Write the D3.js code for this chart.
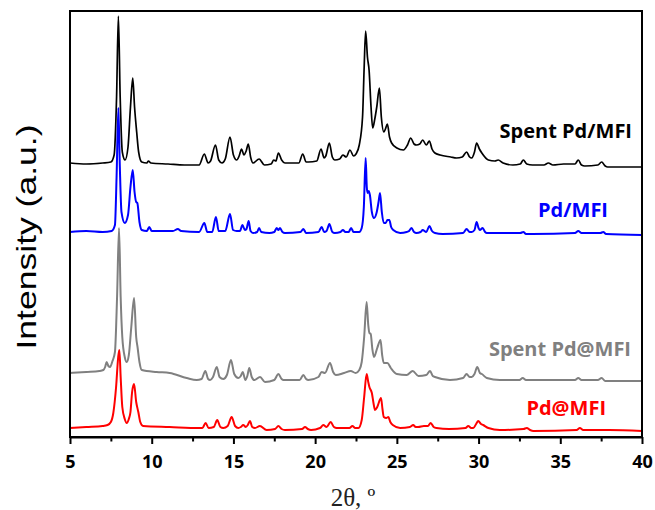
<!DOCTYPE html>
<html>
<head>
<meta charset="utf-8">
<script src="https://cdn.jsdelivr.net/npm/d3@7"></script>
<style>
  html, body { margin: 0; padding: 0; background: #fff; }
  svg { display: block; }
</style>
</head>
<body>
<div id="chart"></div>
<script>
// ---- data (2θ in degrees, intensity in arbitrary units incl. stacking offset) ----
const xTicks = [5, 10, 15, 20, 25, 30, 35, 40];
const xMinorTicks = [7.5, 12.5, 17.5, 22.5, 27.5, 32.5, 37.5];
const seriesNames = ["Spent Pd/MFI", "Pd/MFI", "Spent Pd@MFI", "Pd@MFI"];
const seriesColors = ["#000000", "#0000ff", "#808080", "#ff0000"];

const spentPdMFI = [
  [5.0,274],[6.0,273],[7.0,274],[7.5,275],[7.7,282],[7.85,340],[7.96,421],[8.07,340],[8.2,285],[8.37,277],
  [8.55,290],[8.7,330],[8.84,359],[8.95,330],[9.08,305],[9.2,285],[9.39,275],[9.7,274],[9.8,276],[9.95,274],
  [11.0,273],[12.0,272],[12.9,272],[13.22,283],[13.45,274],[13.6,276],[13.9,292],[14.1,277],[14.3,274],
  [14.5,278],[14.79,300],[15.0,282],[15.2,277],[15.35,281],[15.5,288],[15.64,282],[15.78,286],[15.91,293],
  [16.05,280],[16.2,274],[16.57,278],[16.9,272],[17.3,273],[17.47,277],[17.6,276],[17.75,284],[17.95,277],
  [18.15,274],[19.0,274],[19.24,283],[19.45,275],[19.59,275],[20.1,276],[20.36,288],[20.55,279],[20.65,281],
  [20.87,294],[21.05,280],[21.2,277],[21.5,278],[21.7,282],[21.9,280],[22.13,287],[22.35,281],[22.5,283],
  [22.7,292],[22.9,320],[23.0,370],[23.09,406],[23.2,380],[23.3,367],[23.42,330],[23.52,309],[23.65,318],
  [23.77,330],[23.93,349],[24.05,320],[24.2,305],[24.3,308],[24.42,313],[24.55,300],[24.68,294],[25.0,289],
  [25.4,287],[25.65,292],[25.85,299],[26.05,293],[26.2,292],[26.4,293],[26.58,297],[26.8,292],[26.99,296],
  [27.15,288],[27.33,284],[27.65,282],[28.3,280],[28.65,279],[29.0,280],[29.27,285],[29.45,280],[29.58,279],
  [29.75,285],[29.88,294],[30.05,288],[30.2,284],[30.6,277],[31.0,276],[31.2,277],[31.5,274],[32.1,272],
  [32.55,273],[32.74,277],[32.95,273],[33.3,272],[34.0,272],[34.27,274],[34.55,272],[35.2,273],[35.9,273],
  [36.1,277],[36.3,272],[36.5,271],[37.3,272],[37.53,275],[37.75,271],[37.9,270],[39.0,270],[40.0,270]
];
const pdMFI = [
  [5.0,205],[6.0,206],[7.0,205],[7.55,206],[7.75,212],[7.85,260],[7.96,329],[8.05,270],[8.15,225],[8.35,214],
  [8.55,222],[8.7,250],[8.84,267],[8.95,245],[9.05,235],[9.12,234],[9.25,215],[9.39,207],[9.7,206],[9.85,210],
  [10.0,206],[11.3,206],[11.6,208],[11.8,206],[12.9,205],[13.22,214],[13.4,205],[13.7,205],[13.93,220],
  [14.1,206],[14.5,206],[14.79,223],[14.98,207],[15.2,206],[15.4,206],[15.55,212],[15.7,207],[15.8,208],
  [15.93,216],[16.05,206],[16.2,204],[16.45,205],[16.57,209],[16.7,205],[17.2,204],[17.5,205],[17.65,209],
  [17.75,207],[17.85,209],[18.0,205],[18.15,204],[19.1,205],[19.28,208],[19.45,204],[20.2,205],[20.4,210],
  [20.55,205],[20.7,206],[20.87,213],[21.05,205],[21.2,204],[21.55,205],[21.7,207],[21.85,205],[22.05,205],
  [22.2,209],[22.35,205],[22.5,205],[22.7,205],[22.85,209],[22.98,230],[23.09,279],[23.16,250],[23.21,244],
  [23.28,246],[23.35,242],[23.47,225],[23.6,219],[23.77,225],[23.88,235],[23.97,244],[24.08,225],[24.2,214],
  [24.32,214],[24.42,217],[24.54,217],[24.65,210],[24.78,207],[25.2,204],[25.6,205],[25.75,206],[25.9,209],
  [26.05,205],[26.2,204],[26.45,205],[26.58,207],[26.8,205],[26.99,211],[27.15,206],[27.33,204],[27.8,203],
  [29.05,204],[29.27,208],[29.45,205],[29.58,205],[29.75,207],[29.88,215],[30.0,209],[30.08,207],[30.25,209],
  [30.4,205],[30.5,204],[31.3,204],[32.55,204],[32.74,205],[32.9,203],[33.3,203],[35.9,204],[36.1,206],
  [36.3,204],[37.45,204],[37.63,205],[37.8,203],[40.0,202]
];
const spentPdAtMFI = [
  [5.0,64],[6.0,65],[6.8,66],[7.04,67],[7.15,70],[7.24,75],[7.35,71],[7.45,70],[7.6,76],[7.75,85],[7.88,140],
  [8.0,209],[8.1,140],[8.2,100],[8.35,80],[8.47,75],[8.6,82],[8.75,110],[8.92,139],[9.05,100],[9.14,89],
  [9.25,75],[9.39,67],[10.3,65],[11.1,64],[12.14,59],[12.75,57],[13.05,58],[13.28,66],[13.45,58],[13.57,57],
  [13.75,60],[13.98,70],[14.15,60],[14.38,58],[14.6,62],[14.85,77],[15.05,63],[15.3,59],[15.45,61],[15.57,65],
  [15.73,57],[15.85,61],[15.97,69],[16.12,60],[16.28,57],[16.63,60],[16.93,55],[17.5,57],[17.75,63],[17.95,58],
  [18.06,57],[19.05,57],[19.28,62],[19.45,58],[19.59,57],[20.2,60],[20.4,65],[20.6,64],[20.91,74],[21.1,65],
  [21.26,62],[21.77,64],[22.18,66],[22.48,64],[22.7,67],[22.85,75],[23.0,100],[23.15,135],[23.25,112],
  [23.32,104],[23.4,103],[23.5,88],[23.6,80],[23.8,89],[24.0,97],[24.1,82],[24.2,74],[24.42,74],[24.63,69],
  [25.0,63],[25.6,62],[25.97,66],[26.32,61],[26.8,62],[27.03,66],[27.2,61],[27.33,60],[28.25,57],[29.05,59],
  [29.27,63],[29.45,60],[29.58,60],[29.75,63],[29.92,70],[30.08,64],[30.2,63],[30.5,59],[31.3,57],[32.5,57],
  [32.7,59],[32.9,57],[34.15,57],[35.9,57],[36.1,59],[36.3,57],[37.3,57],[37.53,59],[37.75,56],[38.0,56],[40.0,56]
];
const pdAtMFI = [
  [5.0,9],[6.0,10],[7.0,11],[7.3,12],[7.5,15],[7.65,24],[7.82,50],[7.95,80],[8.02,87],[8.1,60],[8.2,30],
  [8.35,18],[8.47,14],[8.6,18],[8.7,25],[8.8,45],[8.92,53],[9.05,35],[9.18,25],[9.3,15],[9.47,11],[11.1,10],
  [12.9,9],[13.1,9],[13.3,14],[13.48,9],[13.8,10],[14.01,17],[14.2,10],[14.38,9],[14.65,11],[14.89,20],
  [15.1,11],[15.3,9],[15.45,10],[15.6,12],[15.76,10],[15.88,12],[16.01,16],[16.15,10],[16.32,9],[16.62,11],
  [17.03,7],[17.55,8],[17.75,11],[17.95,8],[18.15,7],[19.2,8],[19.38,10],[19.55,8],[19.75,7],[20.3,9],
  [20.5,12],[20.7,10],[20.95,15],[21.15,10],[21.32,9],[22.1,9],[22.28,11],[22.45,9],[22.65,9],[22.85,17],
  [23.0,40],[23.15,63],[23.25,55],[23.32,50],[23.47,44],[23.58,33],[23.66,27],[23.8,30],[24.03,39],[24.12,28],
  [24.2,20],[24.35,19],[24.48,20],[24.6,15],[24.75,12],[25.2,9],[25.8,10],[26.0,12],[26.15,10],[26.3,10],
  [26.66,11],[26.9,11],[27.07,14],[27.25,10],[27.42,9],[28.2,8],[29.2,9],[29.37,11],[29.55,9],[29.68,9],
  [29.85,13],[29.98,16],[30.15,13],[30.28,12],[30.6,9],[31.3,7],[32.75,8],[32.95,9],[33.15,7],[33.35,6],
  [36.0,7],[36.2,9],[36.4,7],[38.0,7],[40.0,6]
];
const seriesData = [spentPdMFI, pdMFI, spentPdAtMFI, pdAtMFI];

// ---- layout ----
const W = 655, H = 510;
const mLeft = 70, mRight = 642, mTop = 11, mBottom = 437;

const svg = d3.select("#chart").append("svg")
  .attr("width", W).attr("height", H);

const x = d3.scaleLinear().domain([5, 40]).range([mLeft, mRight]);
const y = d3.scaleLinear().domain([0, 426]).range([mBottom, mTop]);

const line = d3.line()
  .x(d => x(d[0])).y(d => y(d[1]))
  .curve(d3.curveMonotoneX);

const widths = [1.7, 2, 2, 2];
seriesData.forEach((s, i) => {
  svg.append("path")
    .datum(s)
    .attr("d", line)
    .attr("fill", "none")
    .attr("stroke", seriesColors[i])
    .attr("stroke-width", widths[i])
    .attr("stroke-linejoin", "round");
});

// frame
svg.append("rect")
  .attr("x", mLeft).attr("y", mTop)
  .attr("width", mRight - mLeft).attr("height", mBottom - mTop)
  .attr("fill", "none").attr("stroke", "#000").attr("stroke-width", 2);

// x axis major
const gx = svg.append("g").attr("transform", `translate(0,${mBottom})`)
  .call(d3.axisBottom(x).tickValues(xTicks).tickSize(7).tickSizeOuter(0).tickFormat(d3.format("d")));
gx.select(".domain").attr("stroke-width", 2);
gx.selectAll(".tick line").attr("stroke-width", 2);
gx.selectAll(".tick text")
  .attr("y", 31).attr("dy", 0)
  .style("font-family", "'Open Sans', sans-serif")
  .style("font-weight", "bold")
  .style("font-size", "18px")
  .attr("fill", "#000");

// x axis minor
const gxm = svg.append("g").attr("transform", `translate(0,${mBottom})`)
  .call(d3.axisBottom(x).tickValues(xMinorTicks).tickSize(4.5).tickSizeOuter(0).tickFormat(""));
gxm.select(".domain").remove();
gxm.selectAll(".tick line").attr("stroke-width", 2);

// axis titles
svg.append("text")
  .attr("x", 353).attr("y", 506)
  .attr("text-anchor", "middle")
  .style("font-family", "'Liberation Serif', 'Times New Roman', serif")
  .style("font-size", "25px")
  .attr("fill", "#222")
  .text("2θ, º");

svg.append("text")
  .attr("transform", "translate(36,237) rotate(-90)")
  .attr("text-anchor", "middle")
  .attr("textLength", 225)
  .attr("lengthAdjust", "spacingAndGlyphs")
  .style("font-family", "'Liberation Sans', Arial, sans-serif")
  .style("font-size", "28px")
  .attr("fill", "#000")
  .text("Intensity (a.u.)");

// series labels
const labelPos = [[632, 138], [608, 217], [631, 356], [606, 415]];
seriesNames.forEach((n, i) => {
  svg.append("text")
    .attr("x", labelPos[i][0]).attr("y", labelPos[i][1])
    .attr("text-anchor", "end")
    .style("font-family", "'Open Sans', sans-serif")
    .style("font-weight", "bold")
    .style("font-size", "20px")
    .attr("fill", seriesColors[i])
    .text(n);
});
</script>
</body>
</html>
